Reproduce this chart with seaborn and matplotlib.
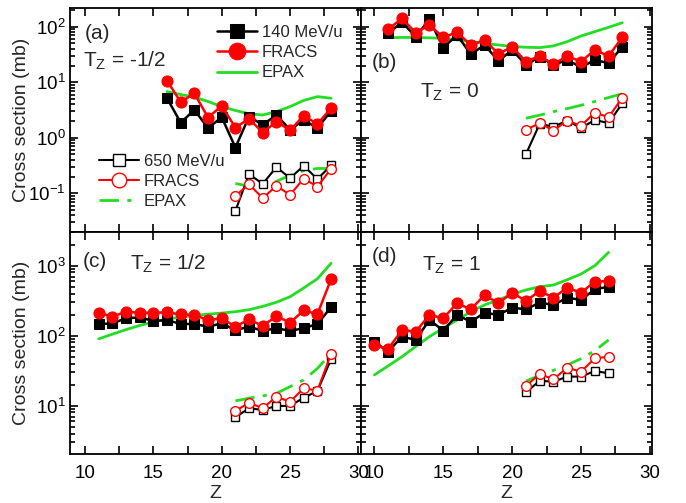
import numpy as np
import pandas as pd
import matplotlib
matplotlib.use("Agg")
import matplotlib.pyplot as plt
import seaborn as sns
from matplotlib.ticker import LogLocator, MultipleLocator, NullFormatter

# ---------------- data ----------------
# Panel (a) Tz = -1/2
za_140 = [16, 17, 18, 19, 20, 21, 22, 23, 24, 25, 26, 27, 28]
a_exp140 = [5.15, 1.87, 3.18, 1.49, 2.35, 0.667, 2.4, 1.71, 2.57, 1.39, 2.09, 1.49, 3.05]
a_fr140 = [10.7, 4.37, 6.3, 2.31, 3.75, 1.53, 2.2, 1.24, 1.96, 1.36, 2.51, 1.76, 3.41]
a_ep140 = [6.8, 6.0, 5.4, 4.5, 3.64, 3.1, 2.7, 2.57, 2.95, 3.64, 4.7, 5.5, 5.15]
za_650 = [21, 22, 23, 24, 25, 26, 27, 28]
a_exp650 = [0.0484, 0.221, 0.148, 0.296, 0.1875, 0.313, 0.18, 0.32]
a_fr650 = [0.090, 0.145, 0.0818, 0.136, 0.094, 0.184, 0.132, 0.276]
a_ep650 = [0.15, 0.135, 0.14, 0.165, 0.21, 0.255, 0.28, 0.28]

# Panel (b) Tz = 0
zb_140 = [11, 12, 13, 14, 15, 16, 17, 18, 19, 20, 21, 22, 23, 24, 25, 26, 27, 28]
b_exp140 = [76, 121, 66, 135, 41.9, 70.8, 31.9, 46.9, 24.2, 38.1, 20.5, 28.8, 20.5, 25.2, 18.6, 25.2, 22, 43.6]
b_fr140 = [89.7, 141, 78, 107, 64.4, 79.3, 46.9, 57.7, 32.3, 43.6, 23.5, 29.7, 21.1, 29.7, 23.5, 38.1, 29.7, 64.4]
b_ep140 = [63.5, 64, 64, 63, 61.7, 58, 53.8, 50, 46.9, 44, 42.6, 42, 45, 53.8, 68, 81.5, 97.5, 118]
zb_650 = [21, 22, 23, 24, 25, 26, 27, 28]
b_exp650 = [0.507, 1.78, 1.58, 2.04, 1.49, 2.1, 1.83, 4.19]
b_fr650 = [1.39, 1.83, 1.35, 2.04, 1.64, 2.84, 2.35, 5.28]
b_ep650 = [2.25, 2.55, 2.95, 3.35, 3.85, 4.5, 5.3, 6.2]

# Panel (c) Tz = 1/2
zc_140 = [11, 12, 13, 14, 15, 16, 17, 18, 19, 20, 21, 22, 23, 24, 25, 26, 27, 28]
c_exp140 = [146, 150, 177, 183, 162, 167, 147, 147, 134.5, 150, 120, 134.5, 117, 128, 117, 128, 147, 255]
c_fr140 = [213, 187, 220, 213, 213, 215, 202, 198, 167, 177, 134.5, 171, 137, 191, 153, 230, 203, 640]
c_ep140 = [90, 105, 122, 140, 157, 172, 185, 195, 203, 210, 220, 235, 262, 300, 360, 480, 650, 1080]
zc_650 = [21, 22, 23, 24, 25, 26, 27, 28]
c_exp650 = [6.83, 9.18, 8.69, 9.91, 9.91, 13.0, 16.2, 46]
c_fr650 = [8.4, 11.0, 9.2, 13.4, 11.4, 17.7, 16.4, 54.8]
c_ep650 = [11.7, 12.8, 13.8, 15.0, 18.7, 23.3, 34, 56]

# Panel (d) Tz = 1
zd_140 = [10, 11, 12, 13, 14, 15, 16, 17, 18, 19, 20, 21, 22, 23, 24, 25, 26, 27]
d_exp140 = [82, 59, 97, 87, 168, 118, 198, 158, 213, 198, 251, 238, 296, 275, 349, 324, 460, 501]
d_fr140 = [73.6, 64.6, 120, 114, 198, 177, 290, 238, 381, 290, 411, 313, 436, 349, 485, 411, 591, 604]
d_ep140 = [27.5, 37, 50, 70, 97, 128, 168, 220, 275, 324, 390, 450, 500, 530, 630, 760, 1000, 1550]
zd_650 = [21, 22, 23, 24, 25, 26, 27]
d_exp650 = [15.5, 22.7, 22.0, 26.0, 26.0, 31.3, 29.0]
d_fr650 = [19.1, 28.4, 23.8, 34.9, 30.6, 47.5, 50.0]
d_ep650 = [22.5, 27, 32, 38, 47, 61, 87]

panel_labels = ["(a)", "(b)", "(c)", "(d)"]
tz_labels = [r"T$_\mathregular{Z}$ = -1/2", r"T$_\mathregular{Z}$ = 0",
             r"T$_\mathregular{Z}$ = 1/2", r"T$_\mathregular{Z}$ = 1"]
legend_top = ["140 MeV/u", "FRACS", "EPAX"]
legend_bot = ["650 MeV/u", "FRACS", "EPAX"]

# ---------------- style ----------------
sns.set_theme(style="ticks")
plt.rcParams["font.family"] = ["Liberation Sans", "DejaVu Sans"]
plt.rcParams["mathtext.fontset"] = "custom"
plt.rcParams["mathtext.rm"] = "Liberation Sans"
plt.rcParams["mathtext.it"] = "Liberation Sans:italic"

GREEN = "#22dd22"
RED = "#ff0000"
BLACK = "#000000"

W, H = 686, 503
fig = plt.figure(figsize=(W / 100, H / 100), dpi=100)

def frac(x0, y0, x1, y1):
    return [x0 / W, 1 - y1 / H, (x1 - x0) / W, (y1 - y0) / H]

ax_a = fig.add_axes(frac(70, 8, 361, 232))
ax_b = fig.add_axes(frac(361, 8, 652, 232))
ax_c = fig.add_axes(frac(70, 232, 361, 454))
ax_d = fig.add_axes(frac(361, 232, 652, 454))
axes = [ax_a, ax_b, ax_c, ax_d]

datasets = [
    (za_140, a_exp140, a_fr140, a_ep140, za_650, a_exp650, a_fr650, a_ep650),
    (zb_140, b_exp140, b_fr140, b_ep140, zb_650, b_exp650, b_fr650, b_ep650),
    (zc_140, c_exp140, c_fr140, c_ep140, zc_650, c_exp650, c_fr650, c_ep650),
    (zd_140, d_exp140, d_fr140, d_ep140, zd_650, d_exp650, d_fr650, d_ep650),
]

dashdot = (0, (7, 3, 1.5, 3))

for i, (ax, ds) in enumerate(zip(axes, datasets)):
    z1, e1, f1, p1, z2, e2, f2, p2 = ds
    sns.lineplot(x=z1, y=p1, ax=ax, color=GREEN, linewidth=2.0, estimator=None, sort=False)
    h_ep1 = ax.lines[-1]
    sns.lineplot(x=z1, y=e1, ax=ax, color=BLACK, linewidth=1.8, marker="s", markersize=6.5,
                 markeredgecolor=BLACK, markerfacecolor=BLACK, estimator=None, sort=False)
    h_e1 = ax.lines[-1]
    sns.lineplot(x=z1, y=f1, ax=ax, color=RED, linewidth=1.8, marker="o", markersize=8,
                 markeredgecolor=RED, markerfacecolor=RED, estimator=None, sort=False)
    h_f1 = ax.lines[-1]
    sns.lineplot(x=z2, y=p2, ax=ax, color=GREEN, linewidth=2.0, estimator=None, sort=False,
                 linestyle=dashdot)
    h_ep2 = ax.lines[-1]
    sns.lineplot(x=z2, y=e2, ax=ax, color=BLACK, linewidth=1.5, marker="s", markersize=5.5,
                 markeredgecolor=BLACK, markerfacecolor="white", markeredgewidth=1.0,
                 estimator=None, sort=False)
    h_e2 = ax.lines[-1]
    sns.lineplot(x=z2, y=f2, ax=ax, color=RED, linewidth=1.5, marker="o", markersize=7,
                 markeredgecolor=RED, markerfacecolor="white", markeredgewidth=1.0,
                 estimator=None, sort=False)
    h_f2 = ax.lines[-1]

    ax.set_yscale("log")
    if i in (0, 1):
        ax.set_ylim(0.0201, 217)
    else:
        ax.set_ylim(2.04, 3027)
    if i in (0, 2):
        ax.set_xlim(8.9, 30.19)
    else:
        ax.set_xlim(9.03, 30.15)

    ax.xaxis.set_major_locator(MultipleLocator(5))
    ax.xaxis.set_minor_locator(MultipleLocator(2.5))
    ax.yaxis.set_major_locator(LogLocator(base=10, numticks=10))
    ax.yaxis.set_minor_locator(LogLocator(base=10, subs=np.arange(2, 10), numticks=20))
    ax.yaxis.set_minor_formatter(NullFormatter())
    ax.tick_params(axis="both", which="both", direction="in", top=True, right=True,
                   width=1.2, colors="black")
    ax.tick_params(axis="both", which="major", length=6, labelsize=13.5)
    ax.tick_params(axis="x", which="major", pad=8)
    ax.tick_params(axis="y", which="major", pad=3)
    ax.tick_params(axis="y", which="minor", length=3.5)
    ax.tick_params(axis="x", which="minor", length=6)
    for sp in ax.spines.values():
        sp.set_linewidth(1.3)
        sp.set_color("black")
        sp.set_visible(True)
    if i in (0, 1):
        ax.tick_params(axis="x", labelbottom=False)
    if i in (1, 3):
        ax.tick_params(axis="y", labelleft=False)
    ax.set_xlabel("")
    ax.set_ylabel("")

    if i == 0:
        leg1 = ax.legend([h_e1, h_f1, h_ep1], legend_top, loc="upper left",
                         bbox_to_anchor=(0.505, 0.925), frameon=False, fontsize=12,
                         handlelength=2.4, handletextpad=0.3, labelspacing=0.32,
                         borderpad=0, borderaxespad=0, markerscale=1.5)
        ax.add_artist(leg1)
        ax.legend([h_e2, h_f2, h_ep2], legend_bot, loc="upper left",
                  bbox_to_anchor=(0.1, 0.35), frameon=False, fontsize=12,
                  handlelength=2.4, handletextpad=0.3, labelspacing=0.32,
                  borderpad=0, borderaxespad=0, markerscale=1.5)
    else:
        lg = ax.get_legend()
        if lg is not None:
            lg.remove()

pl_pos = [(0.05, 0.885), (0.038, 0.755), (0.045, 0.866), (0.038, 0.888)]
tz_pos = [(0.045, 0.765), (0.203, 0.625), (0.206, 0.858), (0.21, 0.848)]
for ax, pl, tz, pp, tp in zip(axes, panel_labels, tz_labels, pl_pos, tz_pos):
    ax.text(pp[0], pp[1], pl, transform=ax.transAxes, ha="left", va="center", fontsize=15)
    ax.text(tp[0], tp[1], tz, transform=ax.transAxes, ha="left", va="center", fontsize=15)

for ax in (ax_a, ax_c):
    ax.set_ylabel("Cross section (mb)", fontsize=14)
    ax.yaxis.set_label_coords(-0.137, 0.5)
for ax in (ax_c, ax_d):
    ax.set_xlabel("Z", fontsize=14)
    ax.xaxis.set_label_coords(0.5, -0.138)

fig.savefig("out.png", dpi=100)
